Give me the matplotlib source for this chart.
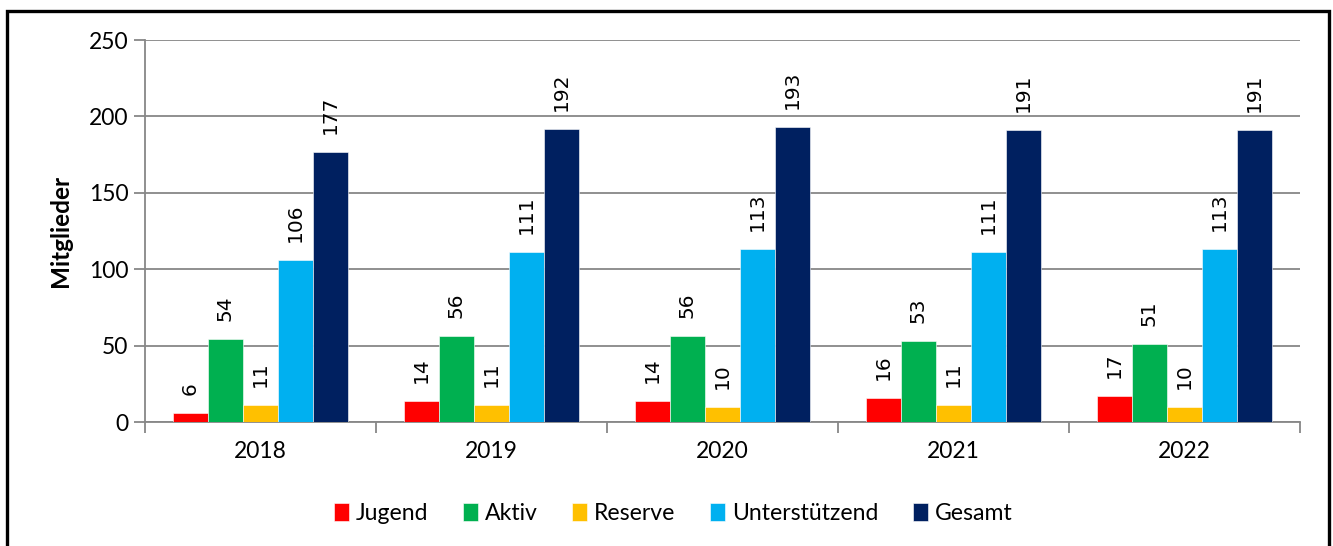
import numpy as np
import matplotlib
matplotlib.use('Agg')
import matplotlib.pyplot as plt
from matplotlib.patches import Rectangle

# data
years = ['2018', '2019', '2020', '2021', '2022']
series = ['Jugend', 'Aktiv', 'Reserve', 'Unterstützend', 'Gesamt']
jugend = [6, 14, 14, 16, 17]
aktiv = [54, 56, 56, 53, 51]
reserve = [11, 11, 10, 11, 10]
unterstuetzend = [106, 111, 113, 111, 113]
gesamt = [177, 192, 193, 191, 191]
values = [jugend, aktiv, reserve, unterstuetzend, gesamt]
colors = ['#FF0000', '#00B050', '#FFC000', '#00B0F0', '#002060']

plt.rcParams['font.family'] = ['Lato', 'DejaVu Sans']
grid_col = '#878787'

fig = plt.figure(figsize=(13.33, 5.46), dpi=100)
ax = fig.add_axes([0.1088, 0.2271, 0.9752 - 0.1088, 0.9267 - 0.2271])

x = np.arange(len(years))
w = 0.152
for i, (name, vals, c) in enumerate(zip(series, values, colors)):
    pos = x + (i - 2) * w
    ax.bar(pos, vals, width=w, color=c, edgecolor='white', linewidth=0.4,
           label=name, zorder=3)
    for p, v in zip(pos, vals):
        ax.annotate(str(v), (p, v), xytext=(0, 13), textcoords='offset points',
                    rotation=90, ha='center', va='bottom', fontsize=14.5,
                    family='DejaVu Sans', zorder=4)

ax.set_xlim(-0.5, len(years) - 0.5)
ax.set_ylim(0, 250)
ax.set_yticks(range(0, 251, 50))
ax.yaxis.grid(True, color=grid_col, linewidth=1.3, zorder=0)
ax.set_axisbelow(True)

# ticks between categories, labels in the middle
ax.set_xticks(np.arange(-0.5, len(years), 1.0))
ax.set_xticklabels([])
ax.set_xticks(x, minor=True)
ax.set_xticklabels(years, minor=True, fontsize=16.5)
ax.tick_params(axis='x', which='minor', length=0, pad=14)
ax.tick_params(axis='x', which='major', length=8, width=1.3, color=grid_col)
ax.tick_params(axis='y', length=8, width=1.3, color=grid_col, labelsize=16.5, pad=4)

for s in ['top', 'right']:
    ax.spines[s].set_visible(False)
for s in ['left', 'bottom']:
    ax.spines[s].set_color(grid_col)
    ax.spines[s].set_linewidth(1.3)

ax.set_ylabel('Mitglieder', fontsize=17.5, fontweight='bold', labelpad=12)

ax.legend(loc='center', bbox_to_anchor=(0.505, 0.06), bbox_transform=fig.transFigure,
          ncol=5, frameon=False, fontsize=16.6, handlelength=0.65, handleheight=0.85,
          handletextpad=0.3, columnspacing=1.5)

# black frame around the chart
fig.patches.append(Rectangle((6.5 / 1333, -0.05), (1328.5 - 6.5) / 1333, 1.05 - 11.5 / 546,
                             transform=fig.transFigure, fill=False,
                             edgecolor='black', linewidth=2.4))

fig.savefig('out.png', dpi=100)
